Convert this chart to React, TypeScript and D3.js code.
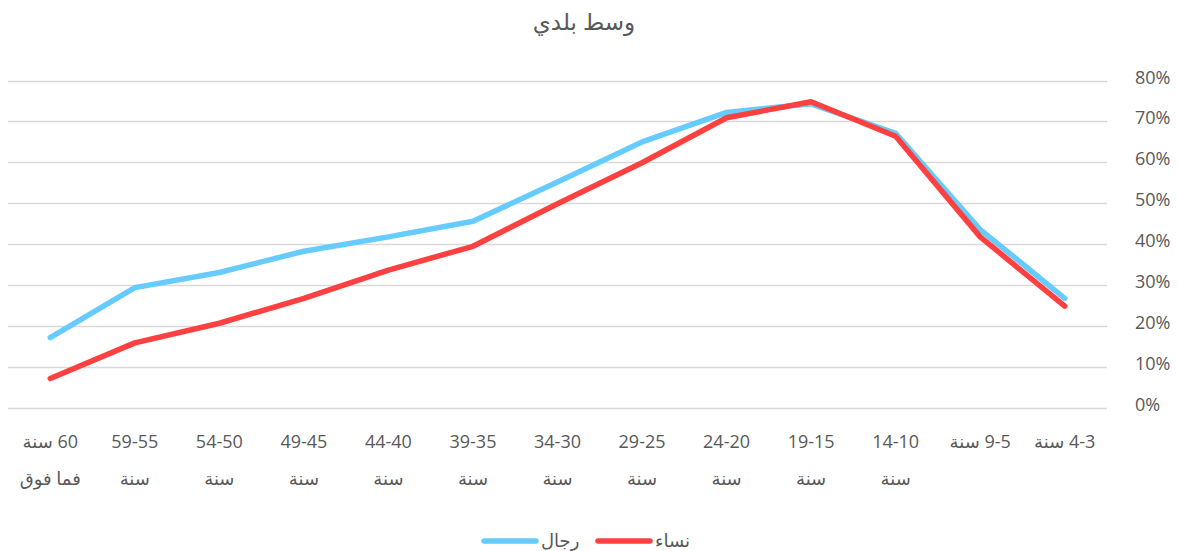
import * as d3 from 'd3'

// categories in logical order (youngest first); drawn right-to-left
const categories = [
  '4-3 سنة',
  '9-5 سنة',
  '14-10\nسنة',
  '19-15\nسنة',
  '24-20\nسنة',
  '29-25\nسنة',
  '34-30\nسنة',
  '39-35\nسنة',
  '44-40\nسنة',
  '49-45\nسنة',
  '54-50\nسنة',
  '59-55\nسنة',
  '60 سنة\nفما فوق',
]

const men = [26.8, 43.6, 67.1, 74.3, 72.2, 65.0, 55.2, 45.6, 41.8, 38.3, 33.1, 29.4, 17.2]
const women = [24.9, 41.8, 66.4, 74.8, 70.9, 59.9, 49.9, 39.5, 33.7, 26.8, 20.7, 15.9, 7.2]

const yTicks = [0, 10, 20, 30, 40, 50, 60, 70, 80]

const title = 'وسط بلدي'
const seriesNames = ['رجال', 'نساء']
const colors = ['#66CCFF', '#FF4040']

const W = 1178
const H = 551
const FONT = "'Open Sans', 'DejaVu Sans', sans-serif"

export default function App() {
  const x = d3
    .scaleBand<string>()
    .domain(categories)
    .range([1107, 8])
    .padding(0)

  const y = d3.scaleLinear().domain([0, 80]).range([408, 80.5])

  const line = d3
    .line<number>()
    .x((_, i) => (x(categories[i]) ?? 0) + x.bandwidth() / 2)
    .y((d) => y(d))

  const series = [men, women]

  return (
    <svg
      width={W}
      height={H}
      style={{ position: 'absolute', left: 0, top: 0, background: '#fff' }}
      fontFamily={FONT}
    >
      <text
        x={584}
        y={30}
        textAnchor="middle"
        fontSize={23}
        fill="#595959"
        direction="rtl"
      >
        {title}
      </text>

      {/* gridlines */}
      {yTicks.map((t) => (
        <line
          key={t}
          x1={8}
          x2={1107}
          y1={Math.round(y(t)) + 0.5}
          y2={Math.round(y(t)) + 0.5}
          stroke="#D9D9D9"
          strokeWidth={1.5}
        />
      ))}

      {/* right axis labels */}
      {yTicks.map((t) => (
        <text key={t} x={1135} y={y(t) + 3} fontSize={18} fill="#595959">
          {`${t}%`}
        </text>
      ))}

      {/* category labels */}
      {categories.map((c) => {
        const lines = c.split('\n')
        const px = (x(c) ?? 0) + x.bandwidth() / 2
        return (
          <text key={c} textAnchor="middle" fontSize={18} fill="#595959" direction="rtl">
            {lines.map((l, i) => (
              <tspan key={i} x={px} y={448 + i * 37}>
                {l}
              </tspan>
            ))}
          </text>
        )
      })}

      {/* lines */}
      {series.map((s, i) => (
        <path
          key={i}
          d={line(s) ?? ''}
          fill="none"
          stroke={colors[i]}
          strokeWidth={5.5}
          strokeLinecap="round"
          strokeLinejoin="round"
        />
      ))}

      {/* legend */}
      {seriesNames.map((name, i) => {
        const lx = 484 + i * 114
        return (
          <g key={name}>
            <line
              x1={lx}
              x2={lx + 52}
              y1={541}
              y2={541}
              stroke={colors[i]}
              strokeWidth={5.5}
              strokeLinecap="round"
            />
            <text x={lx + 57} y={547} fontSize={18} fill="#595959">
              {name}
            </text>
          </g>
        )
      })}
    </svg>
  )
}
